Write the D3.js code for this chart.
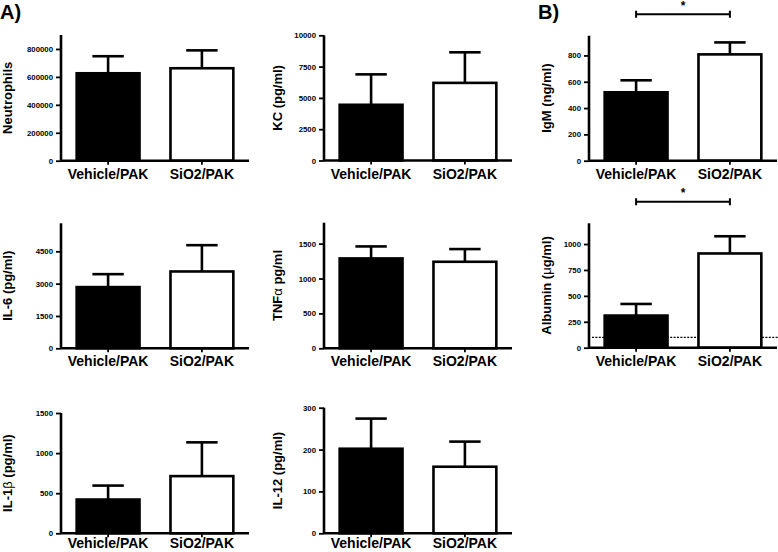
<!DOCTYPE html>
<html>
<head>
<meta charset="utf-8">
<script src="https://cdn.jsdelivr.net/npm/d3@7"></script>
<style>
  html, body { margin: 0; padding: 0; background: #fff; }
  svg { display: block; font-family: "Liberation Sans", Arial, sans-serif; }
</style>
</head>
<body>
<svg id="chart" width="778" height="552"></svg>
<script>
// ---------- DATA ----------
const categories = ["Vehicle/PAK", "SiO2/PAK"];

const neutrophilsMean = [626000, 662000];
const neutrophilsSem  = [122000, 128000];
const neutrophilsTicks = [0, 200000, 400000, 600000, 800000];

const kcMean = [4450, 6200];
const kcSem  = [2430, 2440];
const kcTicks = [0, 2500, 5000, 7500, 10000];

const igmMean = [520, 808];
const igmSem  = [91, 91];
const igmTicks = [0, 200, 400, 600, 800];

const il6Mean = [2840, 3565];
const il6Sem  = [600, 1220];
const il6Ticks = [0, 1500, 3000, 4500];

const tnfMean = [1288, 1240];
const tnfSem  = [172, 182];
const tnfTicks = [0, 500, 1000, 1500];

const albuminMean = [310, 909];
const albuminSem  = [112, 166];
const albuminTicks = [0, 250, 500, 750, 1000];
const albuminDetectionLimit = 100;

const il1bMean = [421, 713];
const il1bSem  = [174, 421];
const il1bTicks = [0, 500, 1000, 1500];

const il12Mean = [202, 159];
const il12Sem  = [72, 60];
const il12Ticks = [0, 100, 200, 300];

const yTitles = ["Neutrophils", "KC (pg/ml)", "IgM (ng/ml)", "IL-6 (pg/ml)", "TNFα pg/ml",
                 "Albumin (μg/ml)", "IL-1β (pg/ml)", "IL-12 (pg/ml)"];
const yMax = [900000, 10000, 950, 5800, 1800, 1200, 1500, 300];
const panelLabels = ["A)", "B)"];
const significance = "*";

// ---------- LAYOUT (positions, not data) ----------
const layout = [
  { ax: 61,  top: 35,    base: 160.7, titleX: 11.5 },
  { ax: 324, top: 35.3,  base: 160.5, titleX: 282 },
  { ax: 589, top: 35.7,  base: 160.7, titleX: 551 },
  { ax: 61,  top: 223.3, base: 348.3, titleX: 11.5 },
  { ax: 324, top: 222.7, base: 348.3, titleX: 282 },
  { ax: 589, top: 223.3, base: 347.7, titleX: 551 },
  { ax: 61,  top: 413,   base: 533.3, titleX: 11.5 },
  { ax: 324, top: 407.7, base: 533.3, titleX: 282 }
];
const axisLen = 188;
const H = 552;

const panels = [
  { mean: neutrophilsMean, sem: neutrophilsSem, ticks: neutrophilsTicks },
  { mean: kcMean, sem: kcSem, ticks: kcTicks },
  { mean: igmMean, sem: igmSem, ticks: igmTicks, sig: true },
  { mean: il6Mean, sem: il6Sem, ticks: il6Ticks },
  { mean: tnfMean, sem: tnfSem, ticks: tnfTicks },
  { mean: albuminMean, sem: albuminSem, ticks: albuminTicks, sig: true, limit: albuminDetectionLimit },
  { mean: il1bMean, sem: il1bSem, ticks: il1bTicks },
  { mean: il12Mean, sem: il12Sem, ticks: il12Ticks }
].map((p, i) => Object.assign(p, { title: yTitles[i], max: yMax[i] }, layout[i]));

const svg = d3.select("#chart");
const SW = 2.6;
const fills = ["#000", "#fff"];

panels.forEach(p => {
  const g = svg.append("g");
  const x = d3.scaleBand().domain(categories)
    .range([p.ax, p.ax + axisLen]).paddingInner(0.33).paddingOuter(0.167);
  const y = d3.scaleLinear().domain([0, p.max]).range([p.base, p.top]);

  // detection limit dotted line (behind bars)
  if (p.limit !== undefined) {
    g.append("line")
      .attr("x1", p.ax + 3).attr("x2", 778)
      .attr("y1", y(p.limit)).attr("y2", y(p.limit))
      .attr("stroke", "#000").attr("stroke-width", 1.1)
      .attr("stroke-dasharray", "2,1.4");
  }

  // error bars (upper only)
  const eb = g.selectAll(".eb").data(categories).enter().append("g");
  eb.append("line")
    .attr("x1", c => x(c) + x.bandwidth() / 2).attr("x2", c => x(c) + x.bandwidth() / 2)
    .attr("y1", (c, i) => y(p.mean[i])).attr("y2", (c, i) => y(p.mean[i] + p.sem[i]))
    .attr("stroke", "#000").attr("stroke-width", SW);
  eb.append("line")
    .attr("x1", c => x(c) + x.bandwidth() / 4).attr("x2", c => x(c) + x.bandwidth() * 3 / 4)
    .attr("y1", (c, i) => y(p.mean[i] + p.sem[i])).attr("y2", (c, i) => y(p.mean[i] + p.sem[i]))
    .attr("stroke", "#000").attr("stroke-width", SW);

  // bars
  g.selectAll(".bar").data(categories).enter().append("rect")
    .attr("x", c => x(c)).attr("width", x.bandwidth())
    .attr("y", (c, i) => y(p.mean[i]))
    .attr("height", (c, i) => y(0) - y(p.mean[i]))
    .attr("fill", (c, i) => fills[i])
    .attr("stroke", "#000").attr("stroke-width", SW);

  // y axis
  const ya = g.append("g").attr("transform", `translate(${p.ax},0)`)
    .call(d3.axisLeft(y).tickValues(p.ticks).tickSize(5).tickPadding(3).tickFormat(d3.format("d")));
  ya.select(".domain").attr("d", `M0,${p.top}V${p.base}`).attr("stroke-width", SW);
  ya.selectAll(".tick line").attr("stroke-width", 1.8);
  ya.selectAll(".tick text").attr("font-size", 7.8).attr("font-weight", "bold")
    .attr("font-family", "'Liberation Sans', Arial, sans-serif").attr("fill", "#000");

  // x axis
  const xa = g.append("g").attr("transform", `translate(0,${p.base})`)
    .call(d3.axisBottom(x).tickSize(4).tickPadding(4));
  xa.select(".domain").attr("d", `M${p.ax},0H${p.ax + axisLen}`).attr("stroke-width", SW);
  xa.selectAll(".tick line").attr("stroke-width", 1.8);
  xa.selectAll(".tick text").remove();
  const labelY = Math.min(18.2, (H - 3.6) - p.base);
  xa.selectAll(".tick").append("text")
    .attr("y", labelY).attr("text-anchor", "middle")
    .attr("font-size", 14).attr("font-weight", "bold")
    .attr("font-family", "'Liberation Sans', Arial, sans-serif")
    .attr("fill", "#000").text(d => d);

  // y title with Greek letters in regular weight
  const cy = (p.top + p.base) / 2;
  const t = g.append("text")
    .attr("transform", `translate(${p.titleX},${cy}) rotate(-90)`)
    .attr("text-anchor", "middle").attr("font-size", 13).attr("font-weight", "bold");
  p.title.split(/([αβμ])/).filter(s => s.length).forEach(s => {
    const ts = t.append("tspan").text(s);
    if (/[αβμ]/.test(s)) ts.attr("font-weight", "normal");
  });

  // significance bracket
  if (p.sig) {
    const x1 = x(categories[0]) + x.bandwidth() / 2;
    const x2 = x(categories[1]) + x.bandwidth() / 2;
    const by = p.top - 21.5;
    g.append("path")
      .attr("d", `M${x1},${by - 3.5}V${by + 3.5}M${x1},${by}H${x2}M${x2},${by - 3.5}V${by + 3.5}`)
      .attr("stroke", "#000").attr("stroke-width", 2).attr("fill", "none");
    g.append("text").attr("x", (x1 + x2) / 2).attr("y", by - 4.5)
      .attr("text-anchor", "middle").attr("font-size", 12).attr("font-weight", "bold")
      .text(significance);
  }
});

// panel labels
svg.append("text").attr("x", 0).attr("y", 18.5).attr("font-size", 20).attr("font-weight", "bold").text(panelLabels[0]);
svg.append("text").attr("x", 538).attr("y", 18.5).attr("font-size", 20).attr("font-weight", "bold").text(panelLabels[1]);
</script>
</body>
</html>
